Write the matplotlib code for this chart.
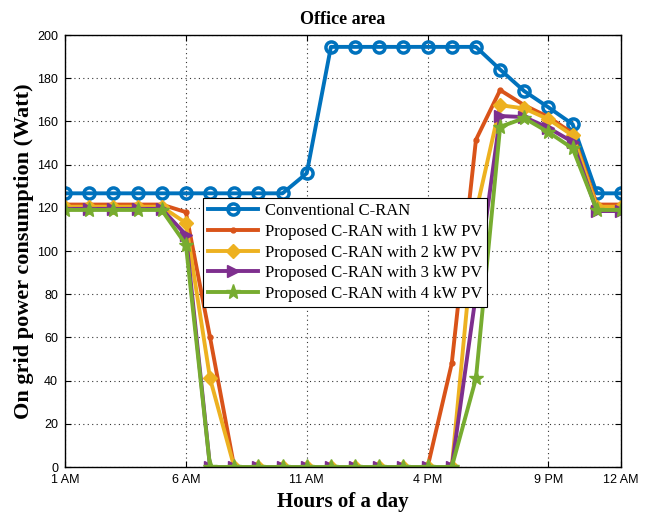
import numpy as np
import matplotlib
matplotlib.use("Agg")
import matplotlib.pyplot as plt

# ------------------------------------------------------------
# Data
# ------------------------------------------------------------
hours = np.arange(1, 25)
tick_pos = [1, 6, 11, 16, 21, 24]
tick_labels = ["1 AM", "6 AM", "11 AM", "4 PM", "9 PM", "12 AM"]

conventional = [126.7] * 10 + [136] + [194.5] * 7 + [184, 174, 166.5, 158.7, 126.7, 126.7]
pv1 = [121.5] * 5 + [118, 60] + [0] * 9 + [48, 151.5, 174.5, 167.5, 162, 154.5, 121.5, 121.5]
pv2 = [120.5] * 5 + [113, 41] + [0] * 10 + [118, 167.5, 166, 161, 153.5, 120.5, 120.5]
pv3 = [119.5] * 5 + [107.5, 0] + [0] * 10 + [80, 162.5, 162, 157, 150.5, 118.5, 118.5]
pv4 = [119] * 5 + [103, 0] + [0] * 10 + [41, 157.5, 161.5, 155, 147.5, 119, 119]

series = [
    ("Conventional C-RAN", conventional, "#0072BD", "o"),
    ("Proposed C-RAN with 1 kW PV", pv1, "#D95319", "."),
    ("Proposed C-RAN with 2 kW PV", pv2, "#EDB120", "D"),
    ("Proposed C-RAN with 3 kW PV", pv3, "#7E2F8E", ">"),
    ("Proposed C-RAN with 4 kW PV", pv4, "#77AC30", "*"),
]

# ------------------------------------------------------------
# Plot
# ------------------------------------------------------------
fig = plt.figure(figsize=(6.56, 5.18), dpi=100)
ax = fig.add_axes([65 / 656, 1 - 467 / 518, 556 / 656, 432 / 518])

for label, vals, col, mk in series:
    if mk == "o":
        ax.plot(hours, vals, color=col, lw=2.8, marker=mk, ms=8,
                mfc="none", mew=2.5, label=label)
    elif mk == ".":
        ax.plot(hours, vals, color=col, lw=2.8, marker=mk, ms=7, label=label)
    elif mk == "D":
        ax.plot(hours, vals, color=col, lw=2.8, marker=mk, ms=7.5, label=label)
    elif mk == ">":
        ax.plot(hours, vals, color=col, lw=2.8, marker=mk, ms=9, label=label)
    else:
        ax.plot(hours, vals, color=col, lw=2.8, marker=mk, ms=11, label=label)

ax.set_xlim(1, 24)
ax.set_ylim(0, 200)
ax.set_xticks(tick_pos)
ax.set_xticklabels(tick_labels)
ax.set_yticks(np.arange(0, 201, 20))
ax.grid(True, linestyle=(0, (1, 3)), color="#333333", linewidth=0.8)
ax.tick_params(direction="in", top=True, right=True, length=4,
               labelsize=9, pad=5)
for lab in ax.get_xticklabels() + ax.get_yticklabels():
    lab.set_fontfamily("Liberation Sans")
for sp in ax.spines.values():
    sp.set_linewidth(1.0)

ax.set_title("Office area", fontfamily="Liberation Serif",
             fontweight="bold", fontsize=13, pad=8)
ax.set_xlabel("Hours of a day", fontfamily="Liberation Serif",
              fontweight="bold", fontsize=15)
ax.set_ylabel("On grid power consumption (Watt)", fontfamily="Liberation Serif",
              fontweight="bold", fontsize=16)
ax.yaxis.set_label_coords(-0.056, 0.5)
ax.xaxis.set_label_coords(0.5, -0.058)

leg = ax.legend(loc="upper left", bbox_to_anchor=(0.248, 0.622),
                prop={"family": "Liberation Serif", "size": 12},
                fancybox=False, framealpha=1, edgecolor="black",
                borderpad=0.3, labelspacing=0.28, handlelength=3,
                handletextpad=0.4, borderaxespad=0)
leg.get_frame().set_linewidth(0.8)

fig.savefig("out.png", dpi=100)
